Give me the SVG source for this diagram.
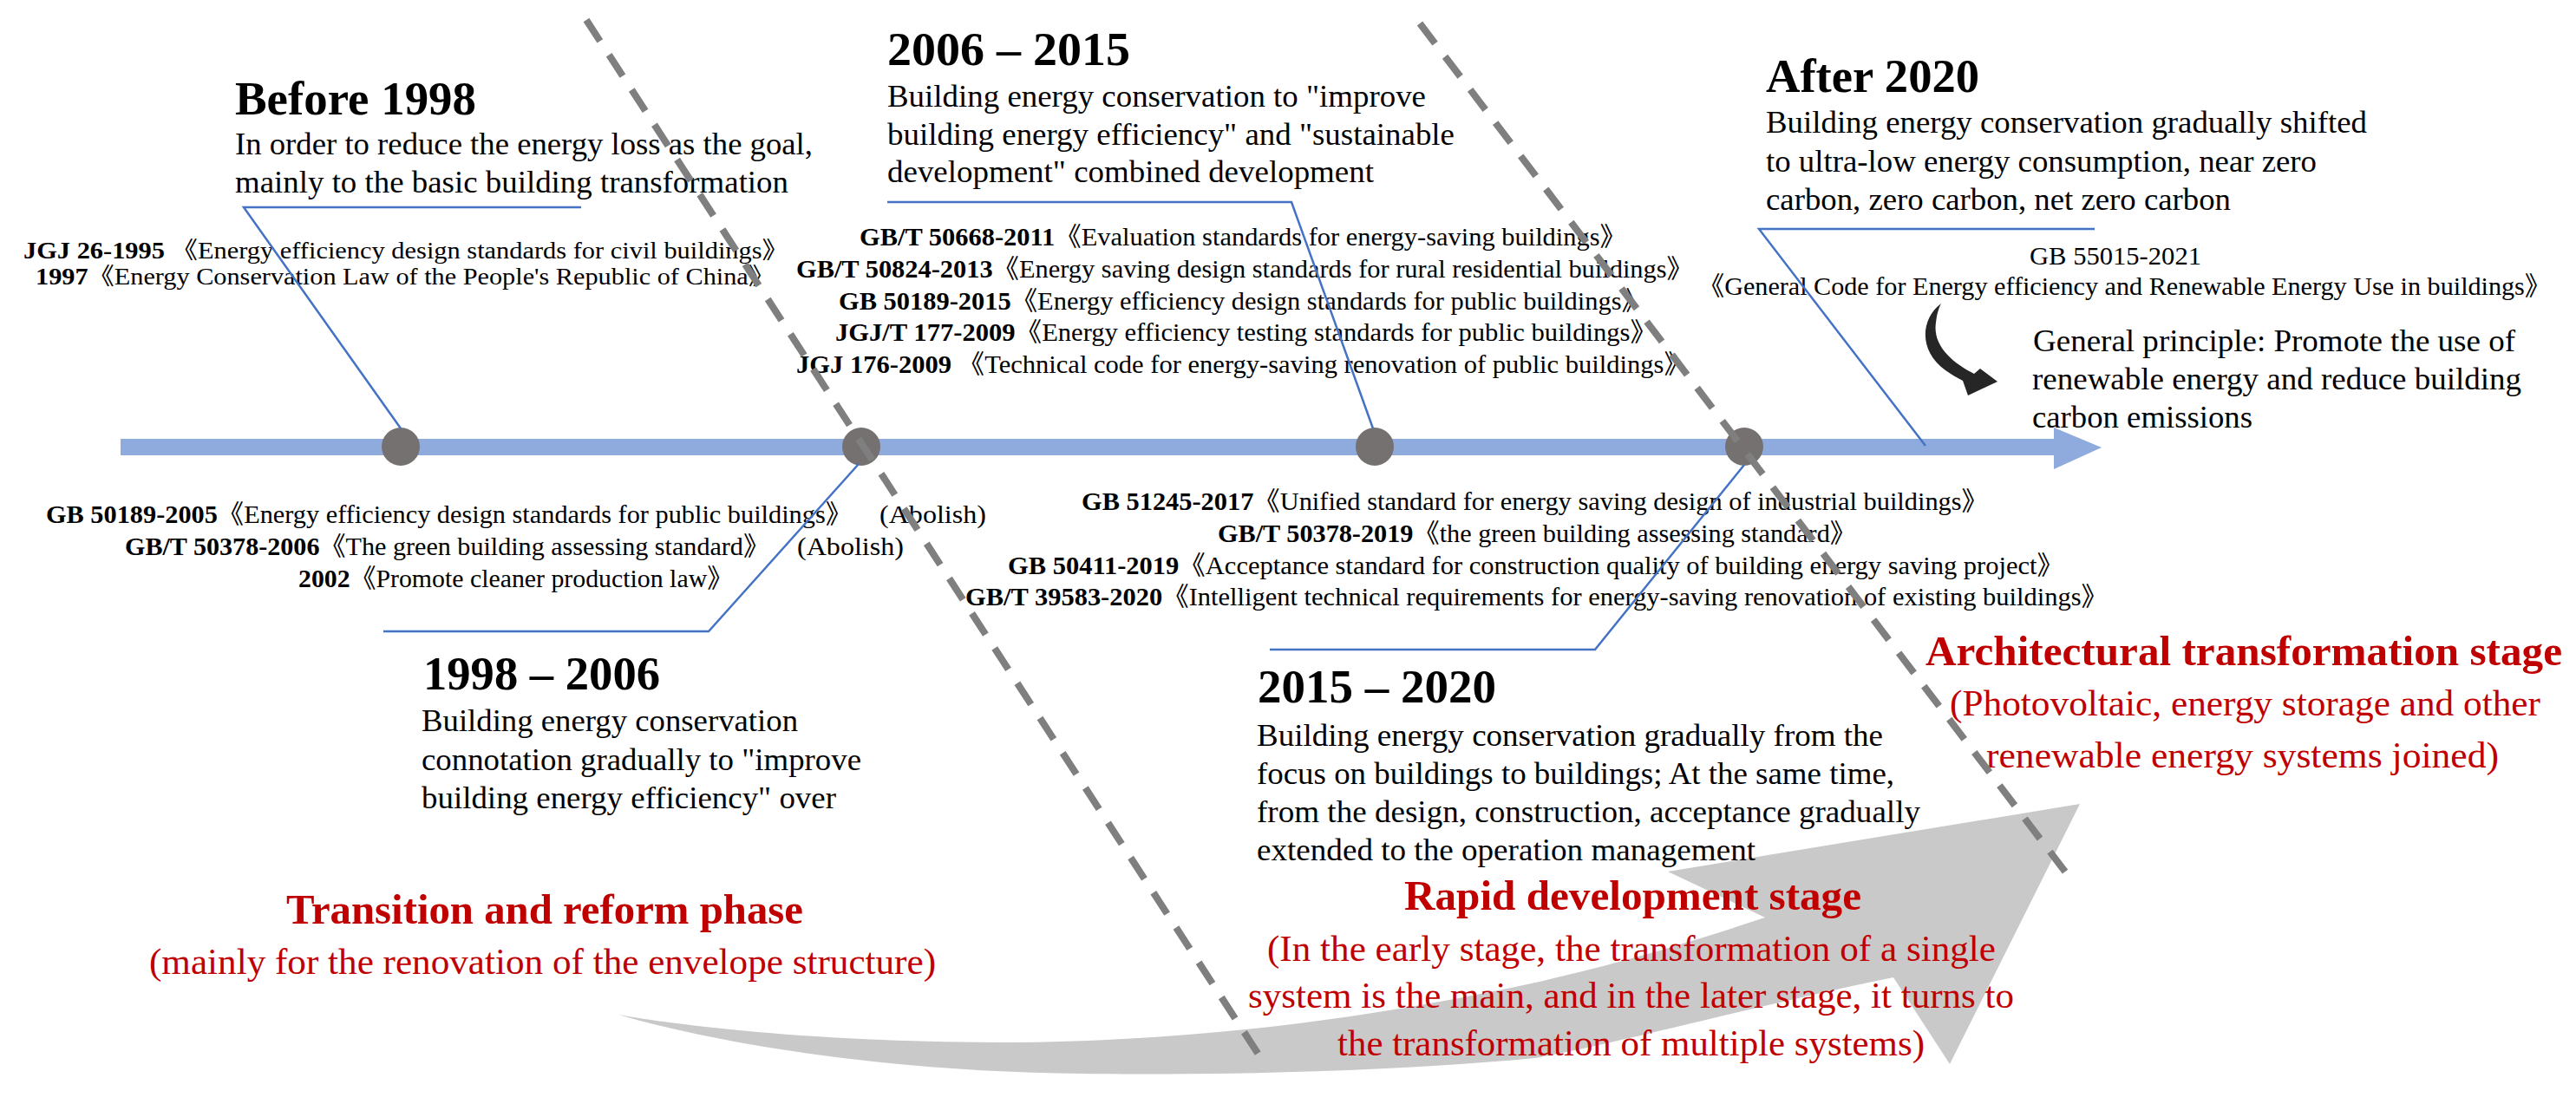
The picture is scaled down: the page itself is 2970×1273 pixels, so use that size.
<svg xmlns="http://www.w3.org/2000/svg" width="2970" height="1273" viewBox="0 0 2970 1273">
<style>
text{font-family:'Liberation Serif','Noto Sans CJK SC',serif;}
.h{font-size:55px;font-weight:bold;fill:#000}
.d{font-size:36px;fill:#000}
.s{font-size:30px;fill:#000}
.sa{font-size:27px;fill:#000}
.b{font-weight:bold}
.rt{font-size:48px;font-weight:bold;fill:#C00000}
.rs{font-size:42px;fill:#C00000}
.lead{fill:none;stroke:#4472C4;stroke-width:2.5}
.div{stroke:#7F7F7F;stroke-width:8;stroke-dasharray:29 19;fill:none}
.dot{fill:#767171}
</style>
<rect width="2970" height="1273" fill="#fff"/>

<g id="stage-arrow">
<path d="M713,1170 C800,1185 950,1202 1170,1202 C1400,1200 1600,1170 1770,1133 C1880,1108 1960,1083 2035,1058 L1923,1005 L2398,927 L2248,1227 L2183,1127 C2000,1165 1880,1200 1770,1220 C1600,1236 1400,1240 1250,1238 C1050,1236 850,1210 713,1170 Z" fill="#C9C9C9"/>
</g>

<g id="timeline">
<rect x="139" y="506" width="2231" height="19" fill="#8FAADC"/>
<polygon points="2368,493 2423,516 2368,541" fill="#8FAADC"/>
</g>

<g id="node-before-1998">
<text class="h" x="271" y="132" textLength="278" lengthAdjust="spacingAndGlyphs">Before 1998</text>
<text class="d" x="271" y="178" textLength="666" lengthAdjust="spacingAndGlyphs">In order to reduce the energy loss as the goal,</text>
<text class="d" x="271" y="222" textLength="638" lengthAdjust="spacingAndGlyphs">mainly to the basic building transformation</text>
<text class="sa" x="27" y="298" textLength="882" lengthAdjust="spacingAndGlyphs"><tspan class="b">JGJ 26-1995 </tspan>《Energy efficiency design standards for civil buildings》</text>
<text class="sa" x="41" y="328" textLength="852" lengthAdjust="spacingAndGlyphs"><tspan class="b">1997</tspan>《Energy Conservation Law of the People's Republic of China》</text>
<circle class="dot" cx="462" cy="515" r="22"/>
</g>

<g id="node-1998-2006">
<text class="h" x="488" y="795" textLength="273" lengthAdjust="spacingAndGlyphs">1998 – 2006</text>
<text class="d" x="486" y="843" textLength="434" lengthAdjust="spacingAndGlyphs">Building energy conservation</text>
<text class="d" x="486" y="888" textLength="507" lengthAdjust="spacingAndGlyphs">connotation gradually to "improve</text>
<text class="d" x="486" y="932" textLength="478" lengthAdjust="spacingAndGlyphs">building energy efficiency" over</text>
<text class="s" x="53" y="603" textLength="929" lengthAdjust="spacingAndGlyphs"><tspan class="b">GB 50189-2005</tspan>《Energy efficiency design standards for public buildings》</text>
<text class="s" x="1014" y="603" textLength="123" lengthAdjust="spacingAndGlyphs">(Abolish)</text>
<text class="s" x="144" y="640" textLength="743" lengthAdjust="spacingAndGlyphs"><tspan class="b">GB/T 50378-2006</tspan>《The green building assessing standard》</text>
<text class="s" x="919" y="640" textLength="123" lengthAdjust="spacingAndGlyphs">(Abolish)</text>
<text class="s" x="344" y="677" textLength="501" lengthAdjust="spacingAndGlyphs"><tspan class="b">2002</tspan>《Promote cleaner production law》</text>
<circle class="dot" cx="993" cy="515" r="22"/>
</g>

<g id="node-2006-2015">
<text class="h" x="1023" y="75" textLength="280" lengthAdjust="spacingAndGlyphs">2006 – 2015</text>
<text class="d" x="1023" y="123" textLength="621" lengthAdjust="spacingAndGlyphs">Building energy conservation to "improve</text>
<text class="d" x="1023" y="167" textLength="654" lengthAdjust="spacingAndGlyphs">building energy efficiency" and "sustainable</text>
<text class="d" x="1023" y="210" textLength="561" lengthAdjust="spacingAndGlyphs">development" combined development</text>
<text class="s" x="991" y="283" textLength="884" lengthAdjust="spacingAndGlyphs"><tspan class="b">GB/T 50668-2011</tspan>《Evaluation standards for energy-saving buildings》</text>
<text class="s" x="918" y="320" textLength="1034" lengthAdjust="spacingAndGlyphs"><tspan class="b">GB/T 50824-2013</tspan>《Energy saving design standards for rural residential buildings》</text>
<text class="s" x="967" y="357" textLength="933" lengthAdjust="spacingAndGlyphs"><tspan class="b">GB 50189-2015</tspan>《Energy efficiency design standards for public buildings》</text>
<text class="s" x="963" y="393" textLength="947" lengthAdjust="spacingAndGlyphs"><tspan class="b">JGJ/T 177-2009</tspan>《Energy efficiency testing standards for public buildings》</text>
<text class="s" x="918" y="430" textLength="1031" lengthAdjust="spacingAndGlyphs"><tspan class="b">JGJ 176-2009 </tspan>《Technical code for energy-saving renovation of public buildings》</text>
<circle class="dot" cx="1585" cy="515" r="22"/>
</g>

<g id="node-2015-2020">
<text class="h" x="1450" y="810" textLength="275" lengthAdjust="spacingAndGlyphs">2015 – 2020</text>
<text class="d" x="1449" y="860" textLength="722" lengthAdjust="spacingAndGlyphs">Building energy conservation gradually from the</text>
<text class="d" x="1449" y="904" textLength="735" lengthAdjust="spacingAndGlyphs">focus on buildings to buildings; At the same time,</text>
<text class="d" x="1449" y="948" textLength="765" lengthAdjust="spacingAndGlyphs">from the design, construction, acceptance gradually</text>
<text class="d" x="1449" y="992" textLength="575" lengthAdjust="spacingAndGlyphs">extended to the operation management</text>
<text class="s" x="1247" y="588" textLength="1045" lengthAdjust="spacingAndGlyphs"><tspan class="b">GB 51245-2017</tspan>《Unified standard for energy saving design of industrial buildings》</text>
<text class="s" x="1404" y="625" textLength="736" lengthAdjust="spacingAndGlyphs"><tspan class="b">GB/T 50378-2019</tspan>《the green building assessing standard》</text>
<text class="s" x="1162" y="662" textLength="1217" lengthAdjust="spacingAndGlyphs"><tspan class="b">GB 50411-2019</tspan>《Acceptance standard for construction quality of building energy saving project》</text>
<text class="s" x="1113" y="698" textLength="1317" lengthAdjust="spacingAndGlyphs"><tspan class="b">GB/T 39583-2020</tspan>《Intelligent technical requirements for energy-saving renovation of existing buildings》</text>
<circle class="dot" cx="2011" cy="515" r="22"/>
</g>

<g id="node-after-2020">
<text class="h" x="2036" y="106" textLength="246" lengthAdjust="spacingAndGlyphs">After 2020</text>
<text class="d" x="2036" y="153" textLength="693" lengthAdjust="spacingAndGlyphs">Building energy conservation gradually shifted</text>
<text class="d" x="2036" y="198" textLength="635" lengthAdjust="spacingAndGlyphs">to ultra-low energy consumption, near zero</text>
<text class="d" x="2036" y="242" textLength="536" lengthAdjust="spacingAndGlyphs">carbon, zero carbon, net zero carbon</text>
<text class="s" x="2340" y="305" textLength="198" lengthAdjust="spacingAndGlyphs">GB 55015-2021</text>
<text class="s" x="1958" y="340" textLength="983" lengthAdjust="spacingAndGlyphs">《General Code for Energy efficiency and Renewable Energy Use in buildings》</text>
<text class="d" x="2344" y="405" textLength="556" lengthAdjust="spacingAndGlyphs">General principle: Promote the use of</text>
<text class="d" x="2343" y="449" textLength="564" lengthAdjust="spacingAndGlyphs">renewable energy and reduce building</text>
<text class="d" x="2343" y="493" textLength="254" lengthAdjust="spacingAndGlyphs">carbon emissions</text>
</g>

<g id="principle-arrow">
<path d="M2238,350 C2214,368 2212,405 2243,427 C2250,432 2257,436 2263,439 L2269,456 L2303,440 L2283,425 L2276,431 C2250,418 2228,398 2232,372 C2233,362 2235,356 2238,350 Z" fill="#262626"/>
</g>

<g id="stage-transition">
<text class="rt" x="330" y="1065" textLength="596" lengthAdjust="spacingAndGlyphs">Transition and reform phase</text>
<text class="rs" x="172" y="1123" textLength="907" lengthAdjust="spacingAndGlyphs">(mainly for the renovation of the envelope structure)</text>
</g>

<g id="stage-rapid">
<text class="rt" x="1619" y="1049" textLength="527" lengthAdjust="spacingAndGlyphs">Rapid development stage</text>
<text class="rs" x="1461" y="1108" textLength="840" lengthAdjust="spacingAndGlyphs">(In the early stage, the transformation of a single</text>
<text class="rs" x="1439" y="1162" textLength="883" lengthAdjust="spacingAndGlyphs">system is the main, and in the later stage, it turns to</text>
<text class="rs" x="1542" y="1217" textLength="677" lengthAdjust="spacingAndGlyphs">the transformation of multiple systems)</text>
</g>

<g id="stage-architectural">
<text class="rt" x="2220" y="767" textLength="734" lengthAdjust="spacingAndGlyphs">Architectural transformation stage</text>
<text class="rs" x="2248" y="825" textLength="681" lengthAdjust="spacingAndGlyphs">(Photovoltaic, energy storage and other</text>
<text class="rs" x="2290" y="885" textLength="591" lengthAdjust="spacingAndGlyphs">renewable energy systems joined)</text>
</g>

<g id="connectors">
<polyline class="lead" points="670,239 281,239 462,494"/>
<polyline class="lead" points="442,728 817,728 990,535"/>
<polyline class="lead" points="1023,233 1489,233 1583,494"/>
<polyline class="lead" points="1464,749 1839,749 2011,536"/>
<polyline class="lead" points="2415,264 2028,264 2220,514"/>
</g>

<g id="dividers">
<line class="div" x1="676" y1="23" x2="1457" y2="1225"/>
<line class="div" x1="1637" y1="27" x2="2387" y2="1013"/>
</g>
</svg>
